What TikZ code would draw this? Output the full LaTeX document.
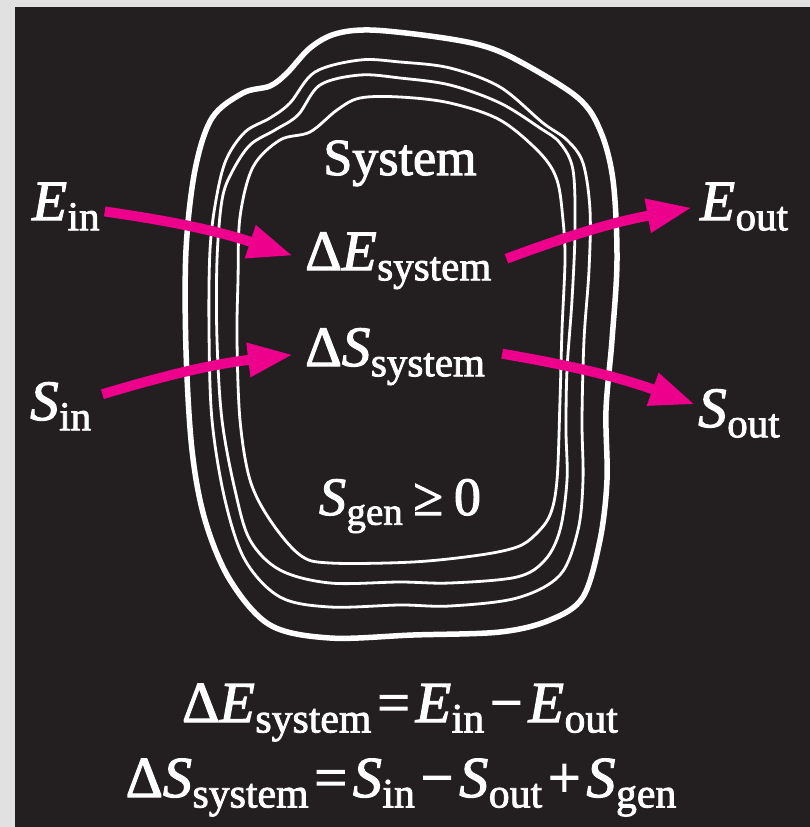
\documentclass[tikz,border=0pt]{standalone}
\usepackage{fontspec}
\setmainfont{Liberation Serif}[FakeBold=2]
\usetikzlibrary{arrows.meta}
\definecolor{bgray}{HTML}{E1E1E1}
\definecolor{dark}{HTML}{231F20}
\definecolor{mag}{HTML}{EC008C}
\newcommand{\vsub}[2]{\textit{#1}\kern0.01em\raisebox{-0.18em}{\scalebox{0.72}{#2}}}
\newcommand{\opsp}[1]{\kern0.1em#1\kern0.1em}
\tikzset{
  lbl/.style={text=white, inner sep=0pt, font=\fontsize{57}{60}\selectfont},
  eqn/.style={text=white, inner sep=0pt, font=\fontsize{58}{62}\selectfont},
  flow/.style={draw=mag, line width=10pt, -{Triangle[length=45pt,width=32pt]}, bend left=5},
  wall/.style={draw=white, line width=2.8pt},
  outerwall/.style={draw=white, line width=5.5pt}
}
\begin{document}
\begin{tikzpicture}[x=1pt,y=-1pt]
\fill[bgray] (0,0) rectangle (810,827);
\fill[dark] (15,7) rectangle (810,827);
\useasboundingbox (0,0) rectangle (810,827);
% boundaries
\draw[outerwall] plot[smooth cycle, tension=0.55] coordinates {
 (370,30) (430,36) (480,45) (517,60) (577,97) (600,130) (613,180) (617,260) (612,340) (606,410) (607,480) (600,540) (583,597) (550,620) (500,632) (413,635) (330,638) (270,625) (230,580) (205,520) (192,450) (186,350) (186,250) (195,170) (212,118) (243,93) (270,86) (287,73) (310,48) (335,34)};
\draw[wall] plot[smooth cycle, tension=0.55] coordinates {
 (360,60) (400,62) (450,68) (500,87) (543,123) (567,140) (583,163) (590,210) (589,270) (584,340) (582,420) (583,480) (578,530) (560,575) (517,598) (450,606) (400,605) (330,607) (280,597) (245,560) (225,500) (212,420) (209,330) (210,250) (216,200) (226,160) (245,132) (270,118) (290,103) (315,72)};
\draw[wall] plot[smooth cycle, tension=0.55] coordinates {
 (360,75) (400,78) (450,85) (500,103) (540,128) (560,143) (573,170) (575,230) (572,300) (567,370) (566,430) (567,480) (560,530) (545,560) (517,577) (450,583) (400,582) (330,583) (280,570) (250,540) (235,490) (222,420) (217,340) (217,260) (222,200) (232,172) (250,145) (275,130) (298,115) (320,85)};
\draw[wall] plot[smooth cycle, tension=0.55] coordinates {
 (360,98) (400,97) (450,103) (500,120) (540,153) (557,180) (563,220) (565,260) (562,330) (560,400) (557,480) (550,515) (535,535) (517,547) (480,555) (413,562) (330,563) (300,555) (270,520) (250,480) (240,420) (237,340) (238,280) (240,217) (253,167) (280,140) (310,132) (337,110)};
% texts
\node[lbl, anchor=base, font=\fontsize{52}{56}\selectfont] (sys) at (400,175) {System};
\node[lbl, anchor=base west] (Ein) at (32,220) {\vsub{E}{in}};
\node[lbl, anchor=base west] (Sin) at (30,420) {\vsub{S}{in}};
\node[lbl, anchor=base west] (dE) at (305,270) {Δ\vsub{E}{system}};
\node[lbl, anchor=base west] (dS) at (305,366) {Δ\vsub{S}{system}};
\node[lbl, anchor=base west] (Eout) at (700,220) {\vsub{E}{out}};
\node[lbl, anchor=base west] (Sout) at (698,427) {\vsub{S}{out}};
\node[lbl, anchor=base, font=\fontsize{54}{58}\selectfont] (gen) at (400,515) {\vsub{S}{gen}\kern0.2em≥\kern0.2em0};
\node[eqn, anchor=base] (eq1) at (400,722) {Δ\vsub{E}{system}\opsp{=}\vsub{E}{in}\opsp{−}\vsub{E}{out}};
\node[eqn, anchor=base] (eq2) at (401,797) {Δ\vsub{S}{system}\opsp{=}\vsub{S}{in}\opsp{−}\vsub{S}{out}\opsp{+}\vsub{S}{gen}};
% flows
\draw[flow] ([shift={(5,5)}]Ein.east) to ([shift={(-12,-5)}]dE.west);
\draw[flow] ([shift={(11,-12)}]Sin.east) to ([shift={(-12,-2)}]dS.west);
\draw[flow] ([shift={(15,-2)}]dE.east) to ([shift={(-8,1)}]Eout.west);
\draw[flow] ([shift={(17,-3)}]dS.east) to ([shift={(-3,-9)}]Sout.west);
\end{tikzpicture}
\end{document}
